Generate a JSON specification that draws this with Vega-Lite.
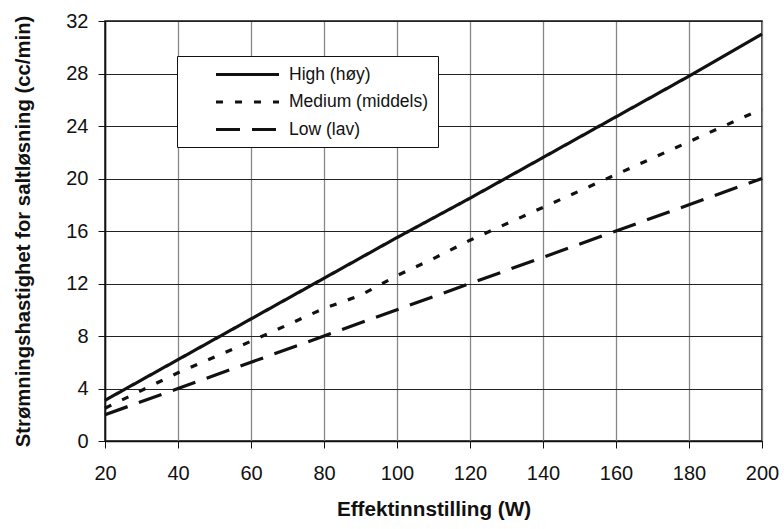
{
  "$schema": "https://vega.github.io/schema/vega-lite/v6.json",
  "autosize": "none",
  "width": 657,
  "height": 420,
  "padding": {"left": 105, "top": 21, "right": 22, "bottom": 88},
  "background": "white",
  "config": {
    "font": "Liberation Sans",
    "view": {"stroke": "#111", "strokeWidth": 1.5}
  },
  "data": {
    "values": [
      {"series": "High (høy)", "x": 20, "y": 3.1},
      {"series": "High (høy)", "x": 40, "y": 6.2},
      {"series": "High (høy)", "x": 60, "y": 9.3},
      {"series": "High (høy)", "x": 80, "y": 12.4},
      {"series": "High (høy)", "x": 100, "y": 15.5},
      {"series": "High (høy)", "x": 120, "y": 18.5},
      {"series": "High (høy)", "x": 140, "y": 21.6},
      {"series": "High (høy)", "x": 160, "y": 24.7},
      {"series": "High (høy)", "x": 180, "y": 27.8},
      {"series": "High (høy)", "x": 200, "y": 31.0},
      {"series": "Medium (middels)", "x": 20, "y": 2.5},
      {"series": "Medium (middels)", "x": 40, "y": 5.2},
      {"series": "Medium (middels)", "x": 60, "y": 7.6},
      {"series": "Medium (middels)", "x": 80, "y": 10.1},
      {"series": "Medium (middels)", "x": 90, "y": 11.1},
      {"series": "Medium (middels)", "x": 100, "y": 12.6},
      {"series": "Medium (middels)", "x": 110, "y": 13.9},
      {"series": "Medium (middels)", "x": 120, "y": 15.3},
      {"series": "Medium (middels)", "x": 140, "y": 17.8},
      {"series": "Medium (middels)", "x": 160, "y": 20.3},
      {"series": "Medium (middels)", "x": 180, "y": 22.8},
      {"series": "Medium (middels)", "x": 200, "y": 25.3},
      {"series": "Low (lav)", "x": 20, "y": 2.0},
      {"series": "Low (lav)", "x": 40, "y": 4.0},
      {"series": "Low (lav)", "x": 60, "y": 6.0},
      {"series": "Low (lav)", "x": 80, "y": 8.0},
      {"series": "Low (lav)", "x": 100, "y": 10.0},
      {"series": "Low (lav)", "x": 120, "y": 12.0},
      {"series": "Low (lav)", "x": 140, "y": 14.0},
      {"series": "Low (lav)", "x": 160, "y": 16.0},
      {"series": "Low (lav)", "x": 180, "y": 18.0},
      {"series": "Low (lav)", "x": 200, "y": 20.0}
    ]
  },
  "mark": {"type": "line", "color": "#111", "strokeWidth": 3.2, "strokeCap": "butt"},
  "encoding": {
    "x": {
      "field": "x", "type": "quantitative",
      "scale": {"domain": [20, 200], "nice": false, "zero": false},
      "axis": {
        "values": [20, 40, 60, 80, 100, 120, 140, 160, 180, 200],
        "labelFlush": false,
        "title": "Effektinnstilling (W)",
        "titleFontSize": 20.7, "titleFontWeight": "bold", "titleColor": "#111", "titlePadding": 16,
        "labelFontSize": 20, "labelColor": "#111", "labelPadding": 15,
        "tickSize": 7, "tickColor": "#111", "domainColor": "#111", "domainWidth": 1.5,
        "gridColor": "#888", "gridWidth": 1.3, "gridOpacity": 1
      }
    },
    "y": {
      "field": "y", "type": "quantitative",
      "scale": {"domain": [0, 32], "nice": false},
      "axis": {
        "values": [0, 4, 8, 12, 16, 20, 24, 28, 32],
        "labelFlush": false,
        "title": "Strømningshastighet for saltløsning (cc/min)",
        "titleFontSize": 20.3, "titleFontWeight": "bold", "titleColor": "#111", "titlePadding": 32,
        "labelFontSize": 20, "labelColor": "#111", "labelPadding": 10,
        "tickSize": 7, "tickColor": "#111", "domainColor": "#111", "domainWidth": 1.5,
        "gridColor": "#222", "gridWidth": 1.1, "gridOpacity": 1
      }
    },
    "strokeDash": {
      "field": "series", "type": "nominal",
      "scale": {
        "domain": ["High (høy)", "Medium (middels)", "Low (lav)"],
        "range": [[1, 0], [7, 12], [24, 12]]
      },
      "legend": {
        "title": null,
        "orient": "none", "legendX": 72, "legendY": 35,
        "symbolType": "M-4,0H4", "symbolSize": 248, "symbolStrokeWidth": 3.2, "symbolStrokeColor": "#111",
        "symbolFillColor": "transparent",
        "symbolOffset": 52,
        "labelFontSize": 17.5, "labelColor": "#111", "labelOffset": 32,
        "rowPadding": 9.5,
        "padding": 9, "fillColor": "white", "strokeColor": "#111", "cornerRadius": 0
      }
    }
  }
}
